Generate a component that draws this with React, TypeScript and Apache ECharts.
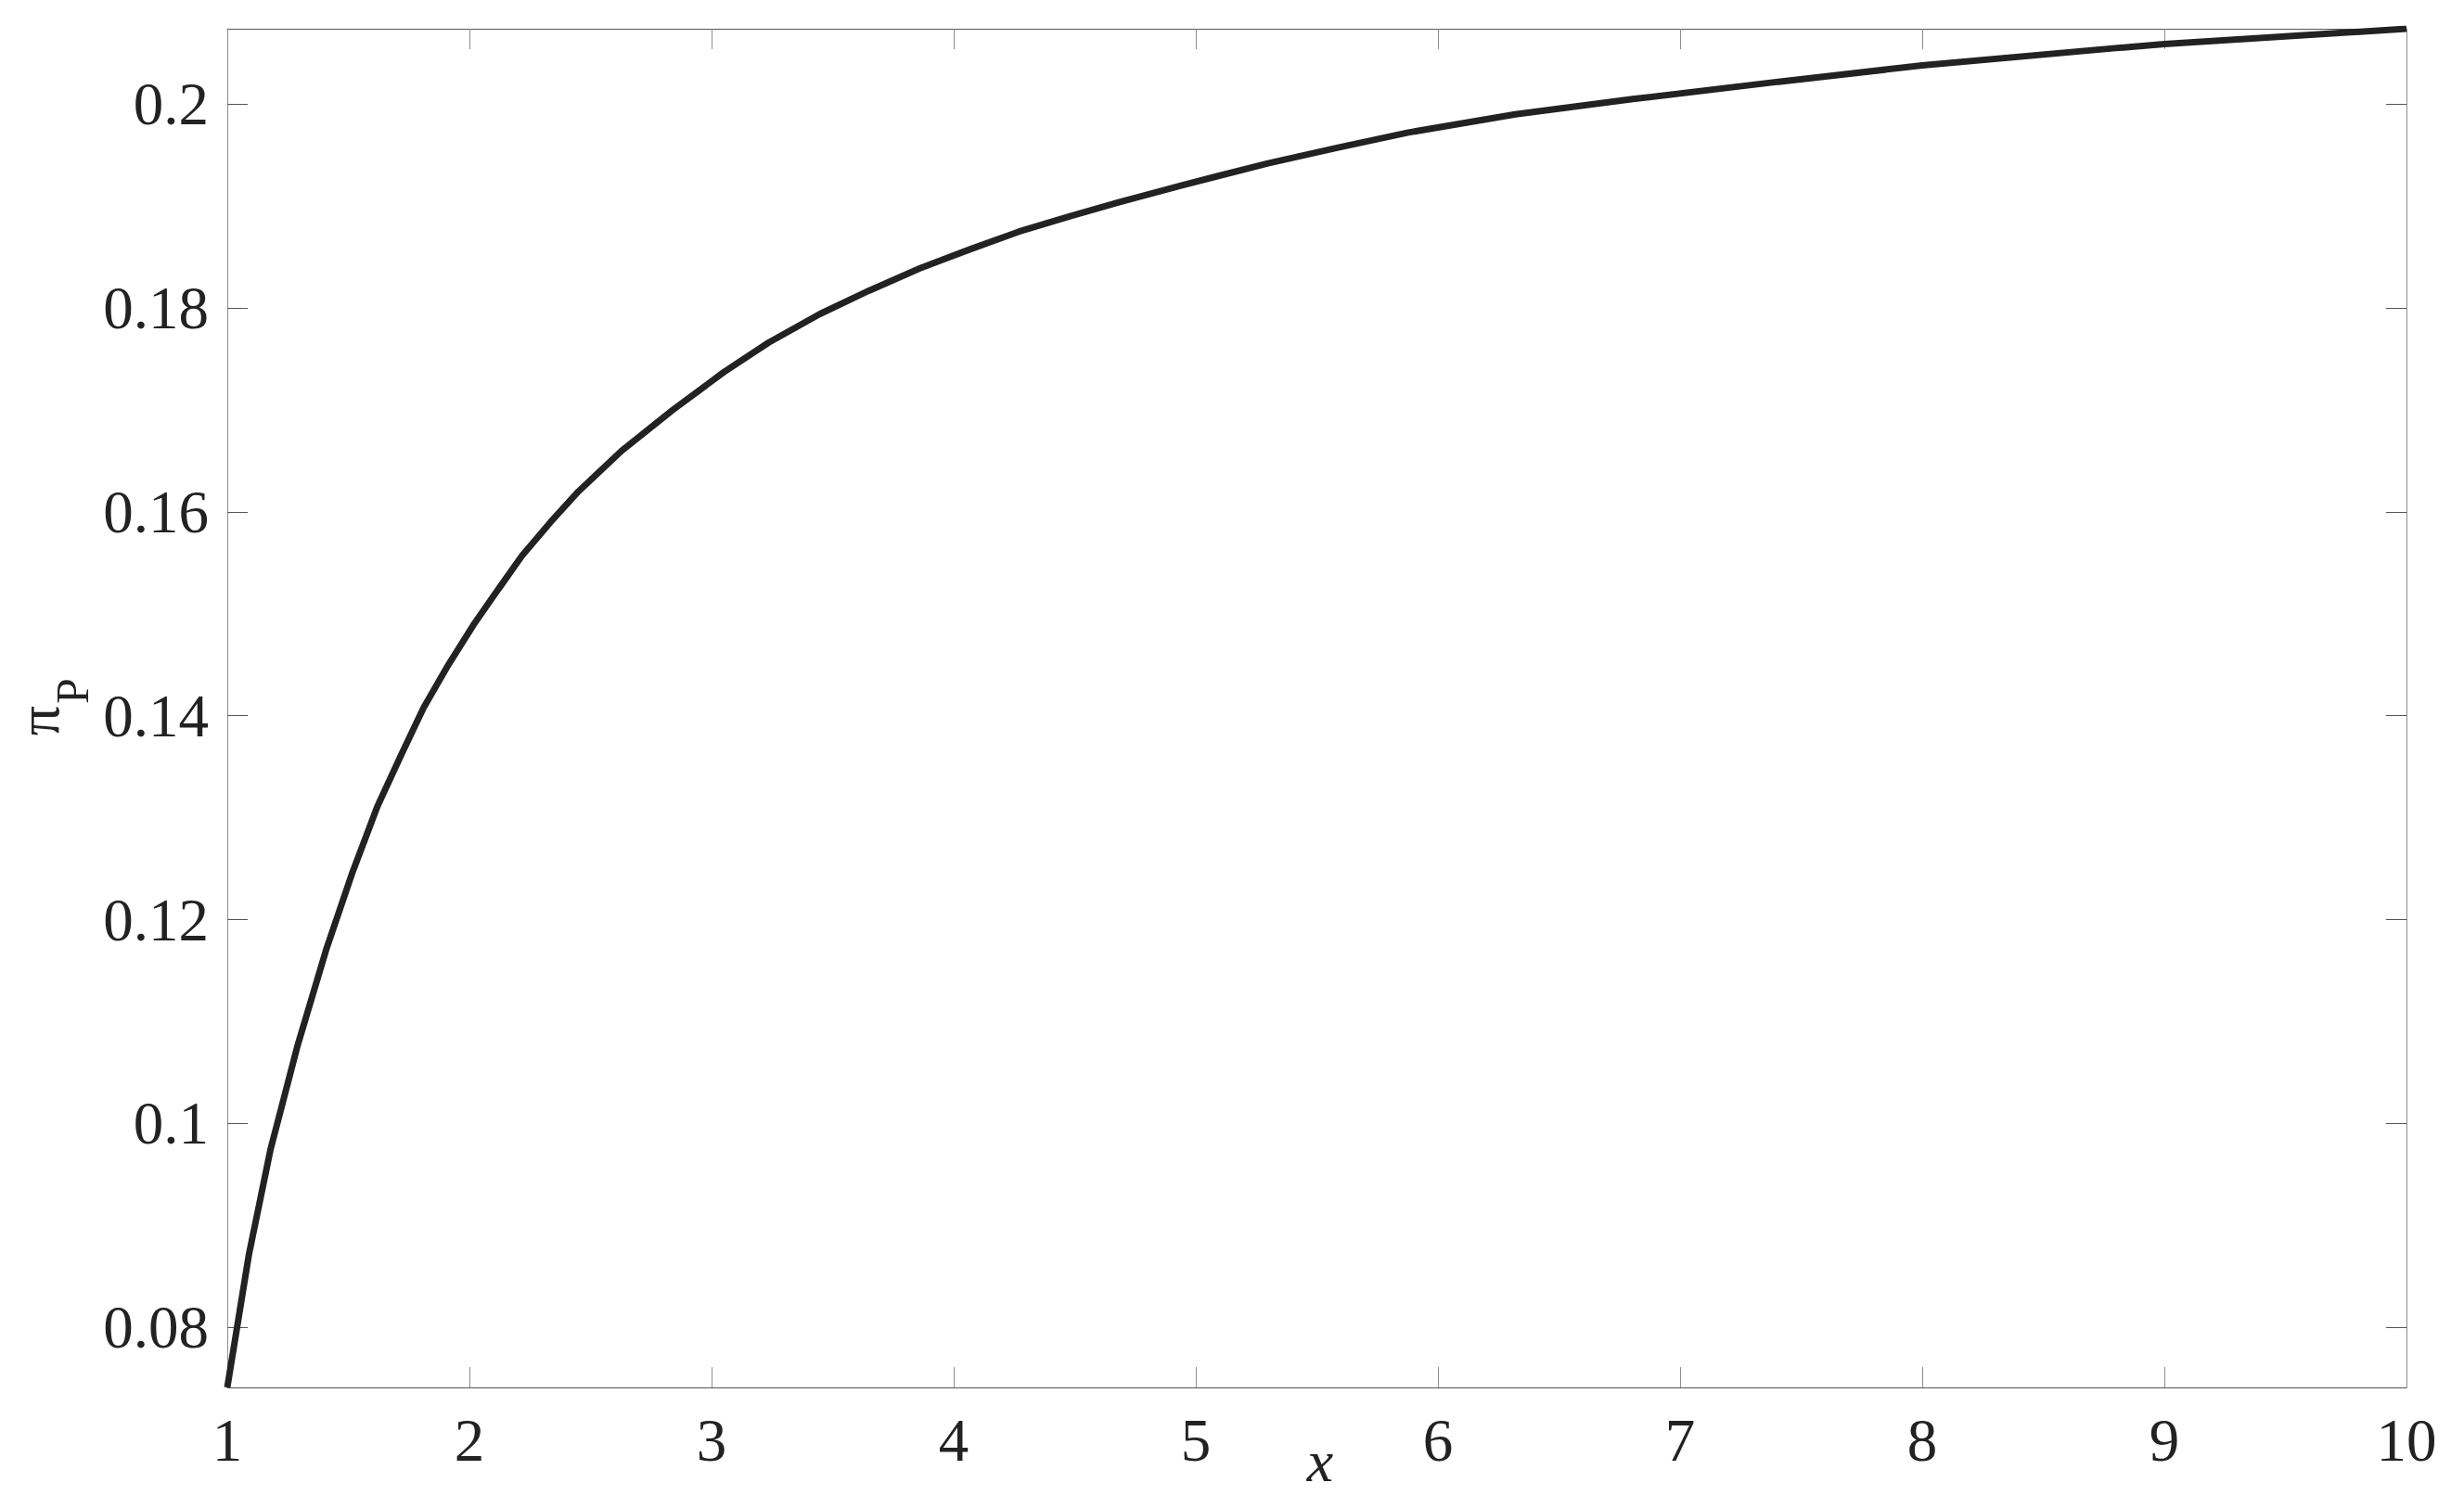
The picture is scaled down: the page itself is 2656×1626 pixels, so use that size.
import React, { useEffect, useRef } from "react";
import * as echarts from "echarts";

const xValues = [
  1.0, 1.089, 1.179, 1.291, 1.409, 1.515, 1.62, 1.719, 1.811, 1.913, 2.022, 2.122,
  2.217, 2.335, 2.45, 2.629, 2.84, 3.05, 3.235, 3.446, 3.65, 3.861, 4.072, 4.27,
  4.481, 4.685, 4.889, 5.1, 5.298, 5.579, 5.873, 6.32, 6.805, 7.406, 8.0,
  8.798, 9.0, 10.0,
];
const piPValues = [
  0.0741, 0.0871, 0.0975, 0.1077, 0.1171, 0.1245, 0.1311, 0.1362, 0.1408, 0.145,
  0.1491, 0.1525, 0.1557, 0.159, 0.162, 0.166, 0.17, 0.1737, 0.1766, 0.1794,
  0.1817, 0.1839, 0.1858, 0.1875, 0.189, 0.1904, 0.1917, 0.193, 0.1942, 0.1957,
  0.1972, 0.199, 0.2005, 0.2022, 0.2038, 0.2055, 0.2059, 0.2074,
];
const yTickValues = [0.08, 0.1, 0.12, 0.14, 0.16, 0.18, 0.2];
const xMin = 1;
const xMax = 10;
const yMin = 0.0741;
const yMax = 0.2074;

const FONT = '"Liberation Serif", "Times New Roman", serif';
const H_LINE = "#555555";
const V_LINE = "#8e8e8e";

export default function App() {
  const ref = useRef<HTMLDivElement>(null);
  useEffect(() => {
    if (!ref.current) return;
    const chart = echarts.init(ref.current, null, { renderer: "svg" });
    const data = xValues.map((x, i) => [x, piPValues[i]]);
    const xAxisBase = {
      type: "value",
      min: xMin,
      max: xMax,
      interval: 1,
      splitLine: { show: false },
      axisLine: { show: true, lineStyle: { color: H_LINE, width: 1 } },
      axisTick: { show: true, inside: true, length: 22, lineStyle: { color: V_LINE, width: 1 } },
    };
    const yAxisBase = {
      type: "value",
      min: yMin,
      max: yMax,
      splitLine: { show: false },
      axisLine: { show: true, lineStyle: { color: V_LINE, width: 1 } },
      axisTick: {
        show: true,
        inside: true,
        length: 22,
        customValues: yTickValues,
        lineStyle: { color: H_LINE, width: 1 },
      },
    };
    chart.setOption({
      animation: false,
      backgroundColor: "#ffffff",
      grid: { left: 245, right: 62, top: 31, bottom: 130, containLabel: false },
      xAxis: [
        {
          ...xAxisBase,
          position: "bottom",
          axisLabel: {
            show: true,
            fontSize: 65,
            fontFamily: FONT,
            color: "#222222",
            margin: 24,
          },
        },
        {
          ...xAxisBase,
          position: "top",
          axisLabel: { show: false },
        },
      ],
      yAxis: [
        {
          ...yAxisBase,
          position: "left",
          axisLabel: {
            show: true,
            customValues: yTickValues,
            fontSize: 65,
            fontFamily: FONT,
            color: "#222222",
            margin: 20,
            formatter: (v: number) => String(Math.round(v * 100) / 100),
          },
        },
        {
          ...yAxisBase,
          position: "right",
          axisLabel: { show: false },
        },
      ],
      graphic: [
        {
          type: "text",
          x: 41,
          y: 777,
          rotation: Math.PI / 2,
          style: {
            text: "π",
            fontSize: 64,
            fontFamily: FONT,
            fill: "#222222",
            align: "center",
            verticalAlign: "middle",
          },
        },
        {
          type: "text",
          x: 78,
          y: 745,
          rotation: Math.PI / 2,
          style: {
            text: "P",
            fontSize: 50,
            fontFamily: FONT,
            fill: "#222222",
            align: "center",
            verticalAlign: "middle",
          },
        },
        {
          type: "text",
          x: 1423,
          y: 1575,
          style: {
            text: "x",
            fontSize: 64,
            fontStyle: "italic",
            fontFamily: FONT,
            fill: "#222222",
            align: "center",
            verticalAlign: "middle",
          },
        },
      ],
      series: [
        {
          type: "line",
          xAxisIndex: 0,
          yAxisIndex: 0,
          data,
          showSymbol: false,
          symbol: "none",
          smooth: false,
          lineStyle: { color: "#222222", width: 7 },
        },
      ],
    });
    return () => chart.dispose();
  }, []);
  return (
    <div
      ref={ref}
      style={{ position: "fixed", left: 0, top: 0, width: 2656, height: 1626, background: "#fff" }}
    />
  );
}
